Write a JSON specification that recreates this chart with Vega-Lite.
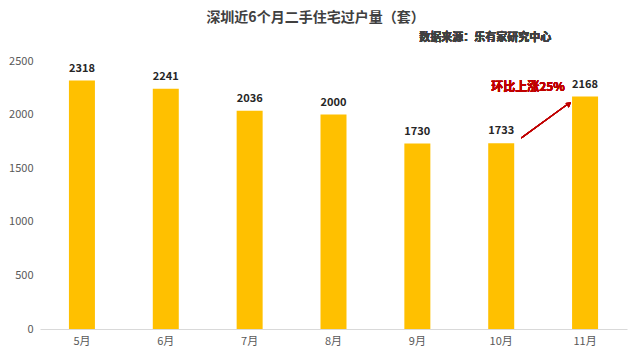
{
  "$schema": "https://vega.github.io/schema/vega-lite/v6.json",
  "width": 587,
  "height": 268,
  "autosize": {"type": "none"},
  "padding": {"left": 40, "top": 61, "right": 13, "bottom": 30},
  "background": "white",
  "config": {
    "font": "Noto Sans CJK SC",
    "view": {"stroke": null}
  },
  "title": {
    "text": "深圳近6个月二手住宅过户量（套）",
    "anchor": "middle",
    "frame": "group",
    "fontSize": 14,
    "fontWeight": "bold",
    "color": "#404040",
    "offset": 7,
    "dx": -18
  },
  "data": {
    "values": [
      {"month": "5月", "count": 2318},
      {"month": "6月", "count": 2241},
      {"month": "7月", "count": 2036},
      {"month": "8月", "count": 2000},
      {"month": "9月", "count": 1730},
      {"month": "10月", "count": 1733},
      {"month": "11月", "count": 2168}
    ]
  },
  "encoding": {
    "x": {
      "field": "month",
      "type": "nominal",
      "sort": null,
      "scale": {"paddingInner": 0.69, "paddingOuter": 0.345},
      "axis": {
        "title": null,
        "labelAngle": 0,
        "labelFontSize": 11,
        "labelColor": "#595959",
        "labelPadding": 6,
        "ticks": false,
        "domainColor": "#d9d9d9",
        "domainWidth": 1
      }
    },
    "y": {
      "field": "count",
      "type": "quantitative",
      "scale": {"domain": [0, 2500], "nice": false},
      "axis": {
        "title": null,
        "values": [0, 500, 1000, 1500, 2000, 2500],
        "format": "d",
        "grid": false,
        "domain": false,
        "ticks": false,
        "labelFontSize": 11,
        "labelColor": "#595959",
        "labelPadding": 7
      }
    }
  },
  "layer": [
    {"mark": {"type": "bar", "color": "#FFC000"}},
    {
      "mark": {"type": "text", "fontWeight": "bold", "fontSize": 11, "color": "#262626", "dy": -12, "baseline": "middle"},
      "encoding": {"text": {"field": "count", "type": "quantitative", "format": "d"}}
    },
    {
      "mark": {"type": "text", "fontWeight": "bold", "fontSize": 11, "color": "#404040", "align": "right", "baseline": "middle", "dx": 50, "clip": false},
      "encoding": {
        "x": {"datum": "10月"},
        "y": {"datum": 2715},
        "text": {"value": "数据来源：乐有家研究中心"}
      }
    },
    {
      "mark": {"type": "text", "fontWeight": "bold", "fontSize": 12, "color": "#C00000", "align": "center", "baseline": "middle", "dx": -57},
      "encoding": {
        "x": {"datum": "11月"},
        "y": {"datum": 2257},
        "text": {"value": "环比上涨25%"}
      }
    },
    {
      "mark": {"type": "rule", "color": "#C00000", "strokeWidth": 1.2, "xOffset": 20, "x2Offset": -17},
      "encoding": {
        "x": {"datum": "10月"},
        "y": {"datum": 1782},
        "x2": {"datum": "11月"},
        "y2": {"datum": 2100}
      }
    },
    {
      "mark": {"type": "point", "shape": "triangle-up", "filled": true, "color": "#C00000", "size": 30, "angle": 54, "xOffset": -16, "opacity": 1},
      "encoding": {
        "x": {"datum": "11月"},
        "y": {"datum": 2100}
      }
    }
  ]
}
